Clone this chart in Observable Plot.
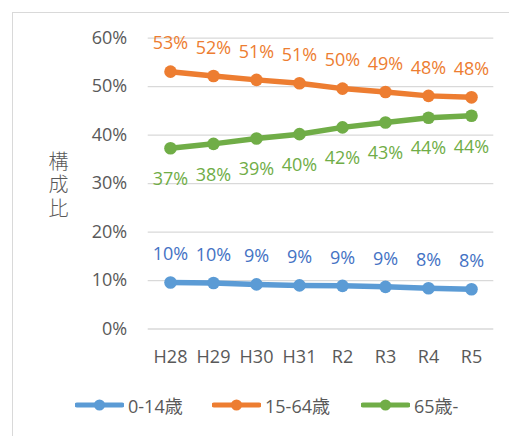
<!DOCTYPE html>
<html>
<head>
<meta charset="utf-8">
<script src="https://cdn.jsdelivr.net/npm/d3@7"></script>
<script src="https://cdn.jsdelivr.net/npm/@observablehq/plot@0.6"></script>
<style>
  body { margin: 0; background: #fff; }
  #wrap { position: relative; width: 509px; height: 436px; overflow: hidden; background: #fff;
          font-family: "Open Sans", "Noto Sans CJK JP", sans-serif; }
  #frame { position: absolute; left: 12px; top: 12px; width: 700px; height: 700px;
           border: 1px solid #d9d9d9; box-sizing: border-box; }
  #chart { position: absolute; left: 0; top: 0; }
  #ylabel { position: absolute; left: 46px; top: 151px; font-size: 20px; line-height: 24px;
            writing-mode: vertical-rl; letter-spacing: 3.5px; font-weight: 300;
            color: #595959; font-family: "Noto Sans CJK JP", sans-serif; }
  #legend { position: absolute; left: 0; top: 385px; width: 509px; height: 40px; }
  .item { position: absolute; top: 0; height: 40px; display: flex; align-items: center;
          font-size: 18px; color: #595959; font-family: "Open Sans", "Noto Sans CJK JP", sans-serif; }
  .item svg { margin-right: 4px; }
</style>
</head>
<body>
<div id="wrap">
  <div id="frame"></div>
  <div id="chart"></div>
  <div id="ylabel"></div>
  <div id="legend"></div>
</div>
<script>
const years = ["H28", "H29", "H30", "H31", "R2", "R3", "R4", "R5"];
const seriesNames = ["0-14歳", "15-64歳", "65歳-"];
const age0_14 = [9.6, 9.5, 9.2, 9.0, 8.9, 8.7, 8.4, 8.2];
const age15_64 = [53.1, 52.2, 51.4, 50.7, 49.6, 48.9, 48.1, 47.8];
const age65 = [37.3, 38.2, 39.3, 40.2, 41.6, 42.6, 43.6, 44.0];
const yTicks = [0, 10, 20, 30, 40, 50, 60];
const colors = ["#5B9BD5", "#ED7D31", "#70AD47"];
const labelColors = ["#4472C4", "#ED7D31", "#70AD47"];
const yTitle = "構成比";

const allSeries = [age0_14, age15_64, age65];
const rows = [];
allSeries.forEach((vals, si) => {
  vals.forEach((v, i) => rows.push({ year: years[i], value: v, series: seriesNames[si] }));
});

const labelFont = { fontSize: 18, fontFamily: "'Open Sans', sans-serif" };

const plot = Plot.plot({
  width: 509,
  height: 385,
  marginLeft: 147.7,
  marginRight: 15.7,
  marginTop: 37.7,
  marginBottom: 56.5,
  style: { background: "transparent", fontFamily: "'Open Sans', sans-serif", fontSize: "18px", color: "#595959", overflow: "visible" },
  x: { type: "point", domain: years, padding: 0.5, label: null },
  y: { domain: [0, 60], label: null },
  color: { domain: seriesNames, range: colors },
  marks: [
    Plot.ruleY(yTicks, { stroke: "#d9d9d9", strokeWidth: 1.3 }),
    Plot.axisY({ ticks: yTicks, tickSize: 0, tickPadding: 21, tickFormat: d => d + "%", fontSize: 18, fill: "#595959", label: null }),
    Plot.axisX({ tickSize: 0, tickPadding: 21, fontSize: 18, fill: "#595959", label: null }),
    Plot.line(rows, { x: "year", y: "value", z: "series", stroke: "series", strokeWidth: 5.5, strokeLinejoin: "round" }),
    Plot.dot(rows, { x: "year", y: "value", fill: "series", r: 6.3 }),
    Plot.text(rows.filter(d => d.series === seriesNames[0]), { x: "year", y: "value", text: d => Math.round(d.value) + "%", dy: -28, fill: labelColors[0], ...labelFont }),
    Plot.text(rows.filter(d => d.series === seriesNames[1]), { x: "year", y: "value", text: d => Math.round(d.value) + "%", dy: -28, fill: labelColors[1], ...labelFont }),
    Plot.text(rows.filter(d => d.series === seriesNames[2]), { x: "year", y: "value", text: d => Math.round(d.value) + "%", dy: 31, fill: labelColors[2], ...labelFont })
  ]
});
document.getElementById("chart").appendChild(plot);

document.getElementById("ylabel").textContent = yTitle;

const legendLefts = [75, 212, 361];
const legend = document.getElementById("legend");
seriesNames.forEach((name, i) => {
  const item = document.createElement("div");
  item.className = "item";
  item.style.left = legendLefts[i] + "px";
  item.innerHTML = `<svg width="49" height="14"><line x1="2" y1="7" x2="47" y2="7" stroke="${colors[i]}" stroke-width="5" stroke-linecap="round"/><circle cx="24.5" cy="7" r="5.5" fill="${colors[i]}"/></svg><span>${name}</span>`;
  legend.appendChild(item);
});
</script>
</body>
</html>
